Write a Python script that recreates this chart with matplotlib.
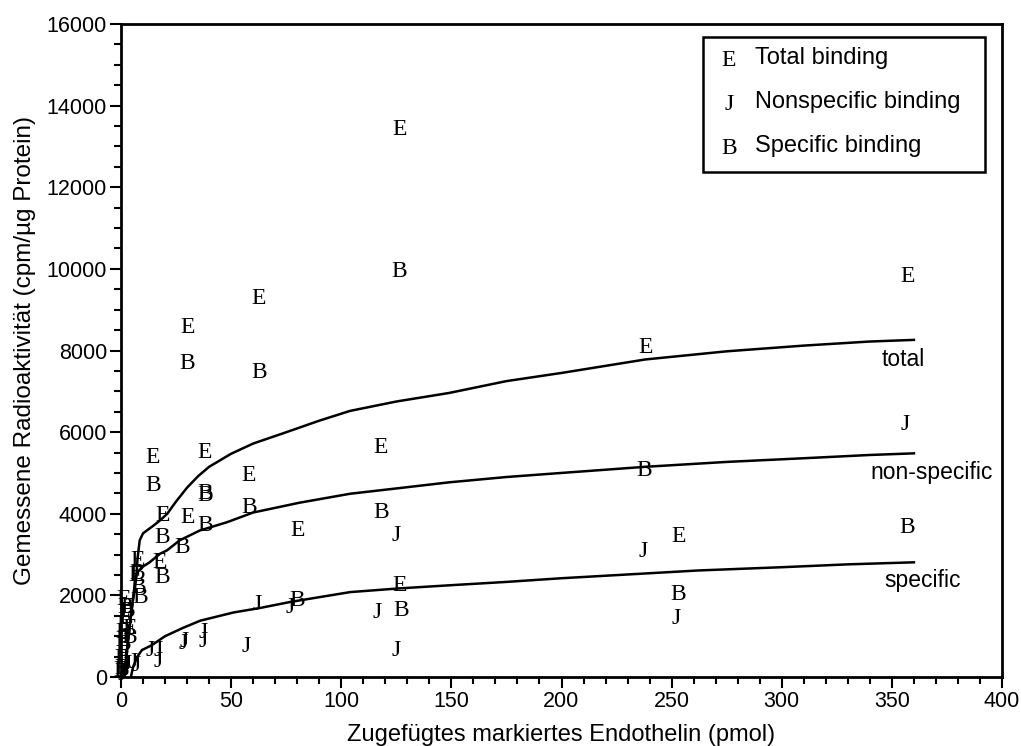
"""
Endothelin binding: total / nonspecific / specific radioactivity vs. added labelled endothelin.
Values read off the reference figure.
"""
import matplotlib
matplotlib.use("Agg")
import matplotlib.pyplot as plt
from matplotlib.patches import Rectangle
from matplotlib.ticker import MultipleLocator

SANS = "Liberation Sans"
SERIF = "Liberation Serif"

# --- measured points (x = pmol, y = cpm/ug protein) ---
total_x = [0.3, 0.5, 0.5, 1, 1, 2, 3, 4, 6.5, 7.3, 14.5, 17.7, 19, 30, 30.4,
           38, 58, 62.6, 80, 118, 126.5, 126.5, 238, 253, 357]
total_y = [200, 550, 900, 1250, 1900, 1450, 1700, 1200, 2490, 2860, 5370, 2810,
           3960, 8570, 3910, 5500, 4930, 9280, 3590, 5620, 13410, 2250, 8085,
           3440, 9820]

nonspec_x = [0.3, 0.5, 1, 1.5, 2, 3, 5.5, 7, 13, 16.8, 16.8, 28, 28.5, 37.2,
             37.2, 57, 61.6, 77, 116.5, 125, 125, 237, 252, 356]
nonspec_y = [50, 100, 150, 200, 250, 300, 350, 290, 660, 660, 370, 830, 880,
             1100, 860, 740, 1780, 1710, 1590, 3470, 640, 3080, 1440, 6180]

spec_x = [0.3, 0.5, 1, 1, 2, 3, 3.5, 7.3, 8, 8.5, 14.5, 18.5, 18.5, 28, 30,
          38, 38.4, 38, 58, 62.6, 80, 118, 126.5, 127, 237.5, 253, 357]
spec_y = [150, 450, 800, 1100, 1700, 1600, 980, 2540, 2200, 1950, 4690, 3420,
          2440, 3180, 7690, 4450, 4500, 3710, 4150, 7450, 1880, 4030, 9940,
          1640, 5060, 2030, 3660]

# --- fitted curves as drawn ---
curve_total_x = [1.5, 3, 4.5, 5.5, 6.3, 7, 7.5, 8.5, 10, 13, 15, 18, 21, 25, 30,
                 35, 40, 50, 60, 73, 81, 90, 104, 125, 149, 175, 200, 238, 275,
                 310, 340, 360]
curve_total_y = [0, 800, 1500, 1900, 2150, 2500, 2900, 3350, 3520, 3640, 3720,
                 3850, 4000, 4300, 4640, 4920, 5150, 5470, 5720, 5960, 6110,
                 6280, 6520, 6750, 6960, 7250, 7450, 7780, 7980, 8120, 8220,
                 8260]

curve_mid_x = [1.5, 3, 4.5, 5.5, 6.3, 7, 7.7, 9.5, 13, 17.7, 20.8, 26.7, 35.8,
               48, 60, 81, 104, 125, 149, 175, 200, 238, 275, 310, 340, 360]
curve_mid_y = [0, 800, 1500, 1950, 2300, 2500, 2580, 2690, 2810, 3020, 3100,
               3350, 3590, 3790, 4030, 4270, 4490, 4620, 4770, 4900, 5000,
               5150, 5270, 5360, 5440, 5480]

curve_low_x = [4.5, 5.5, 6.3, 7.3, 9.5, 14, 20, 28, 36, 51, 63, 77, 104, 126,
               150, 175, 200, 262, 300, 330, 360]
curve_low_y = [0, 250, 350, 490, 660, 780, 1000, 1200, 1380, 1580, 1690, 1840,
               2080, 2170, 2250, 2330, 2420, 2610, 2690, 2760, 2810]

curve_labels = ["total", "non-specific", "specific"]
curve_label_x = [355, 368, 364]
curve_label_y = [7790, 5010, 2370]

legend_symbols = ["E", "J", "B"]
legend_texts = ["Total binding", "Nonspecific binding", "Specific binding"]

fig = plt.figure(figsize=(10.21, 7.46), dpi=100)
ax = fig.add_axes([121 / 1021, 1 - 677 / 746, 881 / 1021, 653 / 746])

for xs, ys, sym in [(total_x, total_y, "E"), (nonspec_x, nonspec_y, "J"),
                    (spec_x, spec_y, "B")]:
    for x, y in zip(xs, ys):
        ax.text(x, y, sym, ha="center", va="center", fontsize=17,
                family=SERIF, color="black")

for cx, cy in [(curve_total_x, curve_total_y), (curve_mid_x, curve_mid_y),
               (curve_low_x, curve_low_y)]:
    ax.plot(cx, cy, color="black", lw=1.8)

for lab, lx, ly in zip(curve_labels, curve_label_x, curve_label_y):
    ax.text(lx, ly, lab, ha="center", va="center", fontsize=16.5, family=SANS)

ax.set_xlim(0, 400)
ax.set_ylim(0, 16000)
ax.xaxis.set_major_locator(MultipleLocator(50))
ax.xaxis.set_minor_locator(MultipleLocator(10))
ax.yaxis.set_major_locator(MultipleLocator(2000))
ax.yaxis.set_minor_locator(MultipleLocator(500))
ax.tick_params(which="both", direction="out", width=1.5, top=False, right=False)
ax.tick_params(which="major", length=8, labelsize=15.5, pad=2)
ax.tick_params(which="minor", length=5)
for lab in ax.get_xticklabels() + ax.get_yticklabels():
    lab.set_family(SANS)
for side in ["left", "bottom", "top", "right"]:
    ax.spines[side].set_linewidth(2)

ax.set_xlabel("Zugefügtes markiertes Endothelin (pmol)", fontsize=17,
              family=SANS, labelpad=9)
ax.set_ylabel("Gemessene Radioaktivität (cpm/µg Protein)", fontsize=17.5,
              family=SANS, labelpad=8)

# legend box drawn by hand, like the original
ax.add_patch(Rectangle((582 / 881, 505 / 653), 282 / 881, 135 / 653,
                       transform=ax.transAxes, fill=False, lw=1.8,
                       edgecolor="black"))
for i, (sym, txt) in enumerate(zip(legend_symbols, legend_texts)):
    yy = (677 - 61 - i * 44) / 653
    ax.text(608 / 881, yy, sym, transform=ax.transAxes, ha="center",
            va="center", fontsize=17, family=SERIF)
    ax.text(634 / 881, yy + 3 / 653, txt, transform=ax.transAxes, ha="left",
            va="center", fontsize=17, family=SANS)

fig.savefig("out.png", dpi=100)
